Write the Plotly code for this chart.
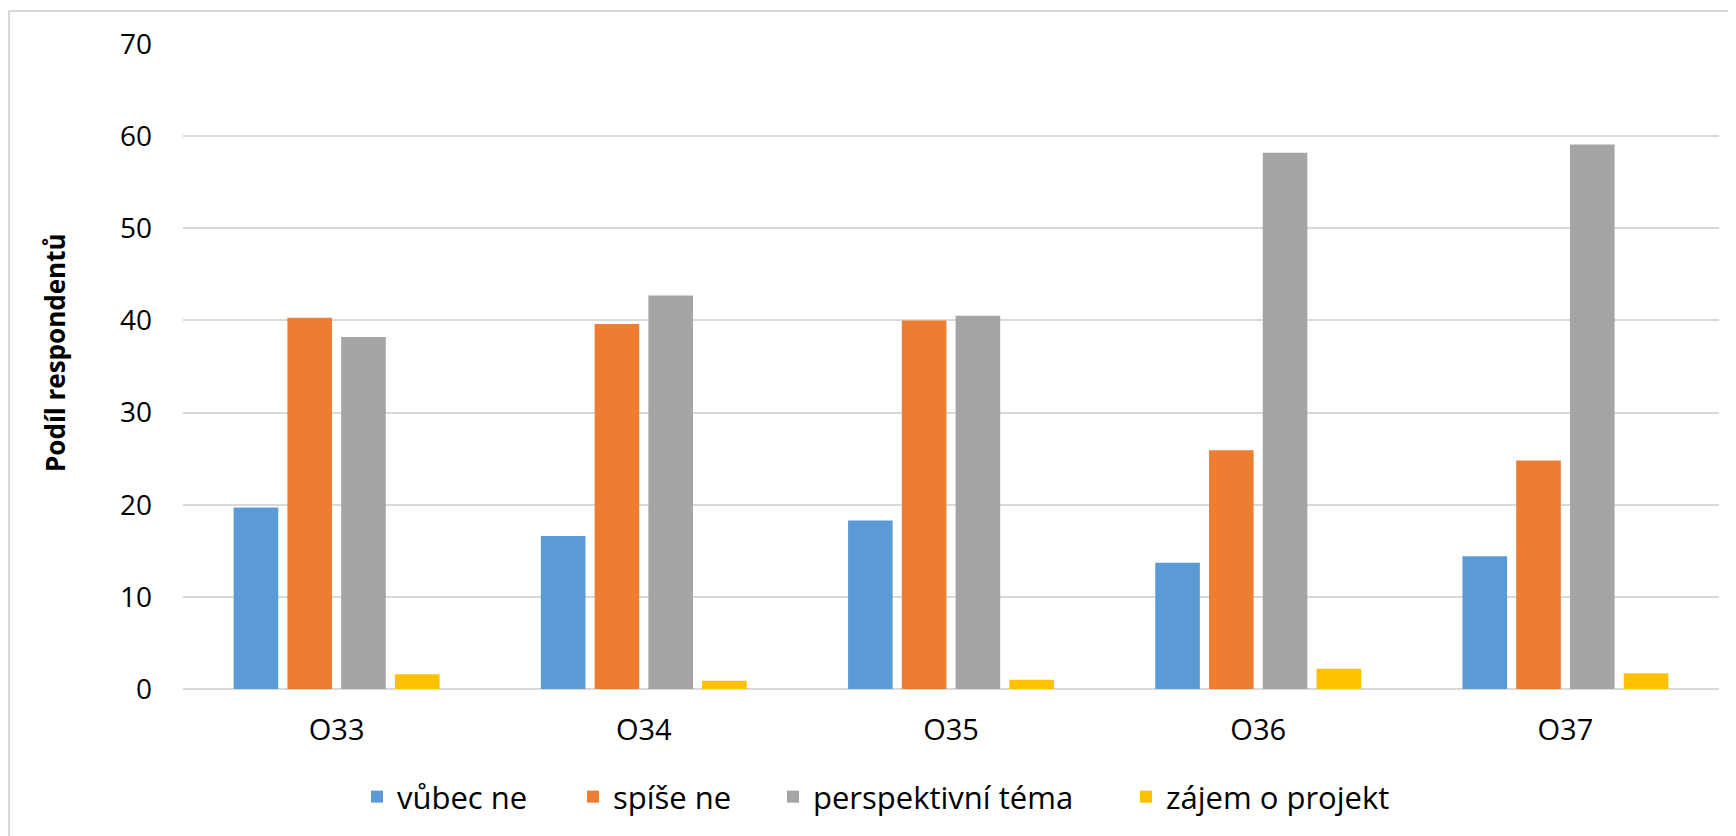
import plotly.graph_objects as go

categories = ["O33", "O34", "O35", "O36", "O37"]
vubec_ne = [19.7, 16.6, 18.3, 13.7, 14.4]
spise_ne = [40.3, 39.6, 40.0, 25.9, 24.8]
perspektivni = [38.2, 42.7, 40.5, 58.2, 59.1]
zajem = [1.6, 0.9, 1.0, 2.2, 1.7]

series_names = ["vůbec ne", "spíše ne", "perspektivní téma", "zájem o projekt"]
colors = ["#5B9BD5", "#ED7D31", "#A5A5A5", "#FFC000"]

# page body has an 8px margin; positions below are in figure coordinates
OFF = 8
W, H = 1736, 836
L, T = 183 - OFF, 44 - OFF
R = W - (1719 - OFF)
B = H - (689 - OFF)

pw = W - L - R
ph = H - T - B

def px_x(x):
    return (x - OFF - L) / pw

def px_y(y):
    return (H - B - (y - OFF)) / ph

legend_ids = ["legend", "legend2", "legend3", "legend4"]
legend_square_left = [369, 585, 785, 1138]

fig = go.Figure()
for name, vals, c, lid in zip(series_names, [vubec_ne, spise_ne, perspektivni, zajem], colors, legend_ids):
    fig.add_trace(go.Bar(name=name, x=categories, y=vals, legend=lid,
                         marker=dict(color=c, line=dict(width=0))))

font = "Open Sans, Liberation Sans, sans-serif"
legend_font = dict(family=font, size=31, color="#000000")
legends = {}
for lid, sx in zip(legend_ids, legend_square_left):
    legends[lid] = dict(orientation="h", x=px_x(sx + 10 - 22), xanchor="left",
                        y=px_y(797), yanchor="middle", font=legend_font,
                        bgcolor="rgba(0,0,0,0)", itemwidth=30)

fig.update_layout(
    width=W, height=H,
    margin=dict(l=L, r=R, t=T, b=B),
    paper_bgcolor="white", plot_bgcolor="white",
    barmode="group", bargap=0.30, bargroupgap=0.17,
    font=dict(family=font, size=28, color="#000000"),
    showlegend=True,
    xaxis=dict(showgrid=False, showline=False, ticks="", tickfont=dict(size=29), ticklabelstandoff=21),
    yaxis=dict(range=[0, 70], dtick=10, showgrid=True, gridcolor="#D9D9D9", gridwidth=2,
               zeroline=True, zerolinecolor="#D9D9D9", zerolinewidth=2,
               ticks="", tickfont=dict(size=28), ticklabelstandoff=30),
    annotations=[
        dict(text="<b>Podíl respondentů</b>", xref="paper", yref="paper", x=px_x(55), y=px_y(353),
             xanchor="center", yanchor="middle", textangle=-90, showarrow=False,
             font=dict(family=font, size=26, color="#000000")),
    ],
    shapes=[
        dict(type="line", xref="paper", yref="paper", x0=px_x(9), x1=px_x(9), y0=px_y(11), y1=px_y(H + 20),
             line=dict(color="#D9D9D9", width=2)),
        dict(type="line", xref="paper", yref="paper", x0=px_x(9), x1=px_x(W + 20), y0=px_y(11), y1=px_y(11),
             line=dict(color="#D9D9D9", width=2)),
    ],
    **legends,
)

fig.write_html("out.html")
